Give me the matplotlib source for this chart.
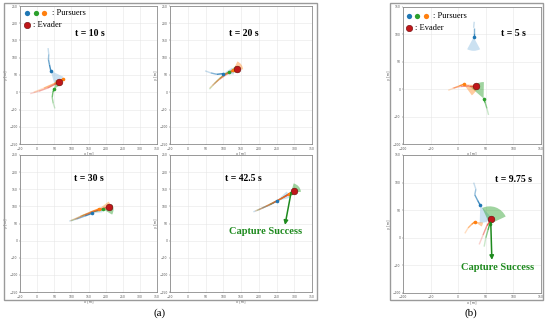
import numpy as np
import matplotlib
matplotlib.use("Agg")
import matplotlib.pyplot as plt
from matplotlib.patches import Wedge, Rectangle
from matplotlib.collections import LineCollection
from matplotlib.colors import to_rgba

BLUE = "#1f77b4"
GREEN = "#2ca02c"
ORANGE = "#ff7f0e"
RED = "#c0171a"
DARKGREEN = "#1e8a1e"
SERIF = "Liberation Serif"

# ---- data (metres) ----
titles = ["t = 10 s", "t = 20 s", "t = 30 s", "t = 42.5 s", "t = 5 s", "t = 9.75 s"]

# trails per panel: blue, green, orange pursuers and the evader
blue_trails = [
    [(32, 128), (34, 110), (33, 95), (36, 80), (40, 62)],
    [(49, 62), (65, 56), (82, 52), (100, 54)],
    [(94, 57), (115, 63), (140, 72), (161, 80)],
    [(185, 84), (210, 95), (232, 105), (250, 115)],
    [(29, 123), (28, 112), (28, 103), (28, 95)],
    [(28, 100), (32, 88), (30, 78), (35, 68), (40, 59)],
]
green_trails = [
    [(52, -47), (47, -32), (44, -15), (46, 0), (50, 10)],
    [(61, 9), (75, 25), (90, 40), (105, 52), (117, 59)],
    [(100, 58), (130, 72), (165, 85), (193, 91)],
    [(195, 88), (230, 105), (262, 122), (291, 140)],
    [(55, -47), (52, -35), (49, -25), (46, -17)],
    [(47, -16), (50, 0), (54, 14), (57, 25)],
]
orange_trails = [
    [(-10, 0), (20, 12), (50, 25), (75, 38)],
    [(62, 12), (80, 30), (100, 48), (115, 58), (128, 64)],
    [(97, 58), (125, 70), (155, 83), (181, 93)],
    [(190, 86), (220, 100), (255, 118), (285, 135)],
    [(-18, -2), (-8, 2), (2, 6), (10, 9)],
    [(12, 8), (18, 18), (24, 24), (30, 29)],
]
evader_trails = [
    [(-20, -4), (5, 3), (30, 12), (50, 22), (65, 30)],
    [(70, 20), (90, 38), (110, 52), (125, 60), (140, 68)],
    [(110, 62), (140, 75), (175, 88), (209, 99)],
    [(200, 90), (240, 110), (272, 128), (299, 145)],
    [(-10, 2), (5, 5), (20, 6), (32, 6)],
    [(38, -12), (45, 5), (52, 22), (60, 34)],
]

# sensing fans: (heading deg, half-angle deg, radius m) for blue, green, orange
blue_fans = [(-50, 25, 40), (15, 20, 30), (20, 15, 30), (30, 15, 40), (-90, 28, 25), (-70, 22, 32)]
green_fans = [(55, 25, 25), (20, 25, 25), (0, 30, 30), (40, 35, 28), (114, 25, 30), (70, 45, 32)]
orange_fans = [(220, 30, 22), (35, 30, 28), (15, 22, 35), (30, 20, 20), (-29, 25, 25), (-20, 15, 15)]

# capture annotations: panel index -> (text centre, arrow start, arrow end)
captures = {
    3: ((220, 26), (291, 140), (274, 46)),
    5: ((72, -53), (59, 28), (61, -40)),
}

ticks_a = [-50, 0, 50, 100, 150, 200, 250, 300, 350]
ticks_ay = [-150, -100, -50, 0, 50, 100, 150, 200, 250]
ticks_b = [-100, -50, 0, 50, 100, 150]

# ---- layout (pixels) ----
W, H = 550, 323
fig = plt.figure(figsize=(W / 100, H / 100), dpi=100)


def px_axes(x0, y0, x1, y1):
    return fig.add_axes([x0 / W, 1 - y1 / H, (x1 - x0) / W, (y1 - y0) / H])


def trail(ax, pts, color, lw=1.0):
    pts = np.asarray(pts, dtype=float)
    segs = np.stack([pts[:-1], pts[1:]], axis=1)
    alphas = np.linspace(0.25, 0.85, len(segs))
    cols = [to_rgba(color, a) for a in alphas]
    ax.add_collection(LineCollection(segs, colors=cols, linewidths=lw, zorder=3))


def fan(ax, center, spec, color, alpha):
    heading, half, r = spec
    ax.add_patch(Wedge(center, r, heading - half, heading + half,
                       facecolor=color, edgecolor="none", alpha=alpha, zorder=2))


boxes = [(px_axes(20, 6, 157, 144), ticks_a, ticks_ay),
         (px_axes(170, 6, 312, 144), ticks_a, ticks_ay),
         (px_axes(20, 155, 157, 292), ticks_a, ticks_ay),
         (px_axes(170, 155, 312, 292), ticks_a, ticks_ay),
         (px_axes(403, 7, 541, 144), ticks_b, ticks_b),
         (px_axes(403, 155, 541, 293), ticks_b, ticks_b)]

title_pos = [(0.51, 0.80), (0.52, 0.80), (0.50, 0.83), (0.52, 0.83), (0.80, 0.81), (0.80, 0.82)]

for i, (ax, xt, yt) in enumerate(boxes):
    ax.set_xlim(xt[0], xt[-1])
    ax.set_ylim(yt[0], yt[-1])
    ax.set_xticks(xt)
    ax.set_yticks(yt)
    ax.tick_params(labelsize=2.2, length=1, width=0.3, pad=0.8, colors="#555555")
    ax.grid(True, color="#e6e6e6", lw=0.4)
    ax.set_axisbelow(True)
    for s in ax.spines.values():
        s.set_color("#8a8a8a")
        s.set_linewidth(0.6)
    ax.set_xlabel("x [m]", fontsize=2.5, labelpad=0.5, color="#555555")
    ax.set_ylabel("y [m]", fontsize=2.5, labelpad=0.5, color="#555555")

    b_end = blue_trails[i][-1]
    g_end = green_trails[i][-1]
    o_end = orange_trails[i][-1]
    e_end = evader_trails[i][-1]

    fan(ax, b_end, blue_fans[i], "#a9cde9", 0.6)
    fan(ax, g_end, green_fans[i], GREEN, 0.45)
    fan(ax, o_end, orange_fans[i], ORANGE, 0.4)

    trail(ax, blue_trails[i], BLUE)
    trail(ax, green_trails[i], GREEN)
    trail(ax, orange_trails[i], ORANGE)
    trail(ax, evader_trails[i], "#e8483a")

    for pt, c in [(b_end, BLUE), (g_end, GREEN), (o_end, ORANGE)]:
        ax.plot(*pt, "o", ms=2.6, color=c, mec="none", zorder=5)
    ax.plot(*e_end, "o", ms=4.8, color=RED, mec="#6a0a0a", mew=0.4, zorder=6)

    tx, ty = title_pos[i]
    ax.text(tx, ty, titles[i], transform=ax.transAxes, ha="center", va="center",
            fontsize=7, fontweight="bold", family=SERIF)

    if i in captures:
        (cx, cy), start, end = captures[i]
        ax.annotate("", xy=end, xytext=start,
                    arrowprops=dict(arrowstyle="-|>", color=DARKGREEN, lw=1.1,
                                    mutation_scale=6, shrinkA=0, shrinkB=0), zorder=7)
        ax.text(cx, cy, "Capture Success", ha="center", va="center", fontsize=7.5,
                fontweight="bold", color=DARKGREEN, family=SERIF, zorder=7)

# legends inside first panels
for ax, xs, ye, yt_ in [(boxes[0][0], (0.05, 0.117, 0.178, 0.23), 0.862, 0.947),
                        (boxes[4][0], (0.045, 0.105, 0.17, 0.215), 0.847, 0.934)]:
    for x, c in zip(xs[:3], [BLUE, GREEN, ORANGE]):
        ax.plot(x, yt_, "o", ms=3.8, color=c, mec="none", transform=ax.transAxes, zorder=8)
    ax.text(xs[3], yt_, ": Pursuers", transform=ax.transAxes, fontsize=6,
            va="center", family=SERIF)
    ax.plot(xs[0], ye, "o", ms=4.6, color=RED, mec="#6a0a0a", mew=0.4,
            transform=ax.transAxes, zorder=8)
    ax.text(xs[0] + 0.045, ye, ": Evader", transform=ax.transAxes, fontsize=6,
            va="center", family=SERIF)

# frames and panel labels
for x0, x1 in [(4, 317), (390, 543)]:
    fig.patches.append(Rectangle((x0 / W, 1 - 300 / H), (x1 - x0) / W, 297 / H,
                                 transform=fig.transFigure, fill=False,
                                 edgecolor="#9a9a9a", lw=1.0))
fig.text(160 / W, 1 - 313 / H, "(a)", ha="center", va="center", fontsize=8, family=SERIF)
fig.text(471 / W, 1 - 313 / H, "(b)", ha="center", va="center", fontsize=8, family=SERIF)

fig.savefig("out.png", dpi=100)
